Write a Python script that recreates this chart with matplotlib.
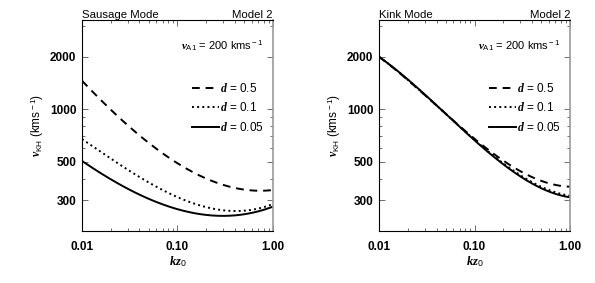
import numpy as np
import matplotlib.pyplot as plt
from matplotlib.ticker import FixedLocator, NullFormatter, LogLocator

### data

kz = [0.01, 0.0154, 0.0344, 0.107, 0.257, 0.385, 1.0]

# sausage mode
saus_d05 = [1430, 1177, 757, 466, 385, 357, 342]
saus_d01 = [663, 590, 426, 305, 264, 266, 284]
saus_d005 = [493, 450, 334, 258, 246, 250, 274]

# kink mode
kz_k = [0.01, 0.0344, 0.0705, 0.1, 0.235, 0.485, 1.0]
kink_d05 = [2000, 1130, 795, 685, 466, 399, 357]
kink_d01 = [2000, 1130, 790, 674, 452, 365, 318]
kink_d005 = [2000, 1130, 790, 672, 446, 357, 312]

plt.rcParams['font.family'] = ['Liberation Sans', 'DejaVu Sans']
plt.rcParams['mathtext.fontset'] = 'custom'
plt.rcParams['mathtext.it'] = 'Liberation Serif:italic:bold'
plt.rcParams['mathtext.rm'] = 'Liberation Sans'

fig = plt.figure(figsize=(5.95, 2.83), dpi=100)
ax1 = fig.add_axes([0.1378, 0.1837, 0.321, 0.7456])
ax2 = fig.add_axes([0.637, 0.1837, 0.321, 0.7456])


def smooth(x, y):
    # cubic fit in log-log space, just to get a smooth curve through the points
    lx = np.log10(x)
    ly = np.log10(y)
    xs = np.linspace(lx[0], lx[-1], 200)
    p = np.polyfit(lx, ly, 3)
    return 10 ** xs, 10 ** np.polyval(p, xs)


def panel(ax, x, d05, d01, d005, title):
    xs, ys = smooth(x, d05)
    ax.plot(xs, ys, 'k--', lw=1.4, dashes=(4, 3), label=r'$d$ = 0.5')
    xs, ys = smooth(x, d01)
    ax.plot(xs, ys, 'k:', lw=1.4, label=r'$d$ = 0.1')
    xs, ys = smooth(x, d005)
    ax.plot(xs, ys, 'k-', lw=1.4, label=r'$d$ = 0.05')
    ax.set_xscale('log')
    ax.set_yscale('log')
    ax.set_xlim(0.01, 1.0)
    ax.set_ylim(200, 3250)
    ax.xaxis.set_major_locator(FixedLocator([0.01, 0.1, 1.0]))
    ax.set_xticklabels(['0.01', '0.10', '1.00'])
    ax.xaxis.set_minor_locator(LogLocator(subs=np.arange(2, 10)))
    ax.xaxis.set_minor_formatter(NullFormatter())
    ax.yaxis.set_major_locator(FixedLocator([300, 500, 1000, 2000]))
    ax.set_yticklabels(['300', '500', '1000', '2000'])
    ax.yaxis.set_minor_locator(LogLocator(subs=np.arange(2, 10)))
    ax.yaxis.set_minor_formatter(NullFormatter())
    ax.tick_params(which='both', direction='in', top=True, right=True,
                   labelsize=8.5, color='#555555', width=0.6)
    ax.tick_params(axis='x', which='major', pad=7)
    ax.tick_params(axis='y', which='major', pad=4)
    ax.tick_params(which='major', length=4)
    ax.tick_params(which='minor', length=2)
    ax.spines['right'].set_color('#999999')
    ax.spines['right'].set_linewidth(1.2)
    for lab in ax.get_xticklabels() + ax.get_yticklabels():
        lab.set_fontweight('bold')
    ax.set_title(title, loc='left', fontsize=8.2, pad=1)
    ax.set_title('Model 2', loc='right', fontsize=8.2, pad=1)
    ax.set_xlabel(r'$kz_{\rm 0}$', fontsize=9, labelpad=1)
    ax.set_ylabel(r'$v_{\rm KH}$ (kms$^{\rm -1}$)', fontsize=8.5, labelpad=3)
    ax.text(0.95, 0.88, r'$v_{\rm A1}$ = 200 kms$^{\rm -1}$', transform=ax.transAxes,
            ha='right', va='center', fontsize=8)
    ax.legend(loc='upper right', bbox_to_anchor=(0.975, 0.73), frameon=False,
              fontsize=8.5, handlelength=2.3, handletextpad=0.05,
              labelspacing=0.55, borderaxespad=0)


panel(ax1, kz, saus_d05, saus_d01, saus_d005, 'Sausage Mode')
panel(ax2, kz_k, kink_d05, kink_d01, kink_d005, 'Kink Mode')

fig.savefig('out.png', dpi=100)
